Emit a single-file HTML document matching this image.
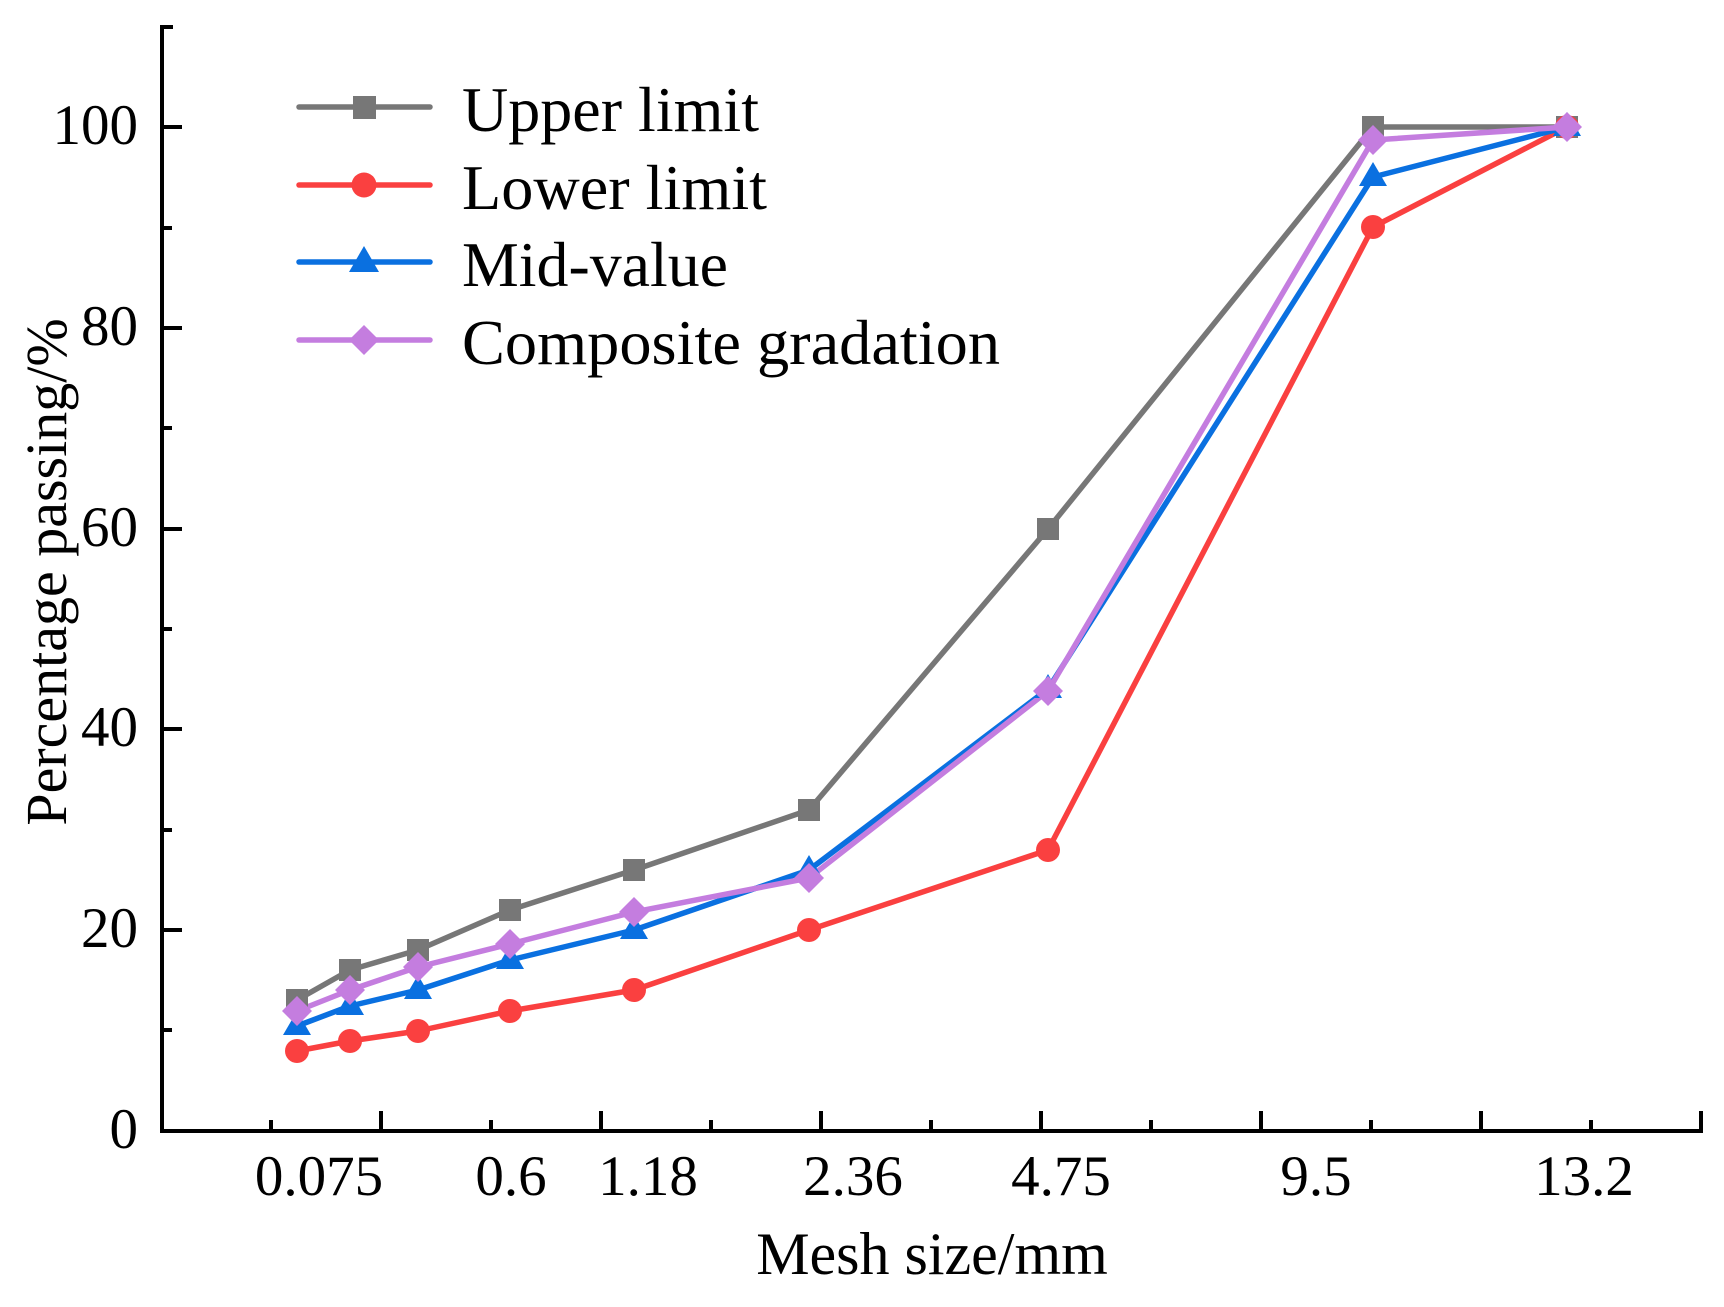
<!DOCTYPE html>
<html><head><meta charset="utf-8"><style>
html,body{margin:0;padding:0;background:#fff}
svg{display:block}
text{font-family:"Liberation Serif","Times New Roman",serif;fill:#000}
</style></head><body>
<svg width="1724" height="1307" viewBox="0 0 1724 1307" xmlns="http://www.w3.org/2000/svg">
<g stroke="#000" stroke-width="4" fill="none">
<line x1="162" y1="25" x2="162" y2="1133"/>
<line x1="160" y1="1131" x2="1703" y2="1131"/>
<line x1="162" y1="27" x2="173" y2="27"/>
<line x1="162" y1="127" x2="182" y2="127"/>
<line x1="162" y1="228" x2="172" y2="228"/>
<line x1="162" y1="328" x2="182" y2="328"/>
<line x1="162" y1="428" x2="172" y2="428"/>
<line x1="162" y1="529" x2="182" y2="529"/>
<line x1="162" y1="629" x2="172" y2="629"/>
<line x1="162" y1="729" x2="182" y2="729"/>
<line x1="162" y1="830" x2="172" y2="830"/>
<line x1="162" y1="930" x2="182" y2="930"/>
<line x1="162" y1="1030" x2="172" y2="1030"/>
<line x1="271" y1="1131" x2="271" y2="1120"/>
<line x1="381" y1="1131" x2="381" y2="1111"/>
<line x1="491" y1="1131" x2="491" y2="1120"/>
<line x1="601" y1="1131" x2="601" y2="1111"/>
<line x1="711" y1="1131" x2="711" y2="1120"/>
<line x1="821" y1="1131" x2="821" y2="1111"/>
<line x1="931" y1="1131" x2="931" y2="1120"/>
<line x1="1041" y1="1131" x2="1041" y2="1111"/>
<line x1="1151" y1="1131" x2="1151" y2="1120"/>
<line x1="1261" y1="1131" x2="1261" y2="1111"/>
<line x1="1371" y1="1131" x2="1371" y2="1120"/>
<line x1="1481" y1="1131" x2="1481" y2="1111"/>
<line x1="1591" y1="1131" x2="1591" y2="1120"/>
<line x1="1701" y1="1131" x2="1701" y2="1111"/>
</g>
<g font-size="57" text-anchor="end">
<text x="138" y="1148">0</text>
<text x="138" y="947">20</text>
<text x="138" y="746">40</text>
<text x="138" y="546">60</text>
<text x="138" y="345">80</text>
<text x="138" y="144">100</text>
</g>
<g font-size="57" text-anchor="middle">
<text x="319" y="1195">0.075</text>
<text x="511" y="1195">0.6</text>
<text x="648" y="1195">1.18</text>
<text x="853" y="1195">2.36</text>
<text x="1061" y="1195">4.75</text>
<text x="1316" y="1195">9.5</text>
<text x="1584" y="1195">13.2</text>
</g>
<text x="932" y="1274" font-size="60" text-anchor="middle">Mesh size/mm</text>
<text transform="translate(66,572) rotate(-90)" font-size="58" text-anchor="middle">Percentage passing/%</text>

<g fill="none" stroke-width="5.5" stroke-linejoin="round">
<polyline stroke="#777777" points="297,1000 350,970 418,950 510,910 634,870 809,810 1048,529 1373,127 1567,127"/>
<polyline stroke="#fa4040" points="297,1051 350,1041 418,1031 510,1011 634,990 809,930 1048,850 1373,227 1567,127"/>
<polyline stroke="#0a70e0" points="297,1026 350,1006 418,990 510,960 634,930 809,870 1048,689 1373,177 1567,127"/>
<polyline stroke="#c47ddf" points="297,1011 350,990 418,967 510,944 634,912 809,878 1048,691 1373,140 1567,127"/>
</g>
<g fill="#777777">
<rect x="286" y="989" width="22" height="22"/><rect x="339" y="959" width="22" height="22"/><rect x="407" y="939" width="22" height="22"/><rect x="499" y="899" width="22" height="22"/><rect x="623" y="859" width="22" height="22"/><rect x="798" y="799" width="22" height="22"/><rect x="1037" y="518" width="22" height="22"/><rect x="1362" y="116" width="22" height="22"/><rect x="1556" y="116" width="22" height="22"/>
</g>
<g fill="#fa4040">
<circle cx="297" cy="1051" r="12"/><circle cx="350" cy="1041" r="12"/><circle cx="418" cy="1031" r="12"/><circle cx="510" cy="1011" r="12"/><circle cx="634" cy="990" r="12"/><circle cx="809" cy="930" r="12"/><circle cx="1048" cy="850" r="12"/><circle cx="1373" cy="227" r="12"/><circle cx="1567" cy="127" r="12"/>
</g>
<g fill="#0a70e0">
<polygon points="297,1011 311,1035 283,1035"/><polygon points="350,991 364,1015 336,1015"/><polygon points="418,975 432,999 404,999"/><polygon points="510,945 524,969 496,969"/><polygon points="634,915 648,939 620,939"/><polygon points="809,855 823,879 795,879"/><polygon points="1048,674 1062,698 1034,698"/><polygon points="1373,162 1387,186 1359,186"/><polygon points="1567,112 1581,136 1553,136"/>
</g>
<g fill="#c47ddf">
<polygon points="297,996 312,1011 297,1026 282,1011"/><polygon points="350,975 365,990 350,1005 335,990"/><polygon points="418,952 433,967 418,982 403,967"/><polygon points="510,929 525,944 510,959 495,944"/><polygon points="634,897 649,912 634,927 619,912"/><polygon points="809,863 824,878 809,893 794,878"/><polygon points="1048,676 1063,691 1048,706 1033,691"/><polygon points="1373,125 1388,140 1373,155 1358,140"/><polygon points="1567,112 1582,127 1567,142 1552,127"/>
</g>

<g stroke-width="5.5" stroke-linecap="round">
<line x1="299" y1="107" x2="430" y2="107" stroke="#777777"/>
<line x1="299" y1="185" x2="430" y2="185" stroke="#fa4040"/>
<line x1="299" y1="262" x2="430" y2="262" stroke="#0a70e0"/>
<line x1="299" y1="340" x2="430" y2="340" stroke="#c47ddf"/>
</g>
<rect x="353" y="96" width="23" height="23" fill="#777777"/>
<circle cx="364" cy="185" r="12.5" fill="#fa4040"/>
<polygon points="364,246 379,272 349,272" fill="#0a70e0"/>
<polygon points="364,325 379,340 364,355 349,340" fill="#c47ddf"/>
<g font-size="64">
<text x="462" y="131" textLength="297" lengthAdjust="spacingAndGlyphs">Upper limit</text>
<text x="462" y="209" textLength="305" lengthAdjust="spacingAndGlyphs">Lower limit</text>
<text x="462" y="286" textLength="266" lengthAdjust="spacingAndGlyphs">Mid-value</text>
<text x="462" y="364" textLength="538" lengthAdjust="spacingAndGlyphs">Composite gradation</text>
</g>
</svg>
</body></html>
